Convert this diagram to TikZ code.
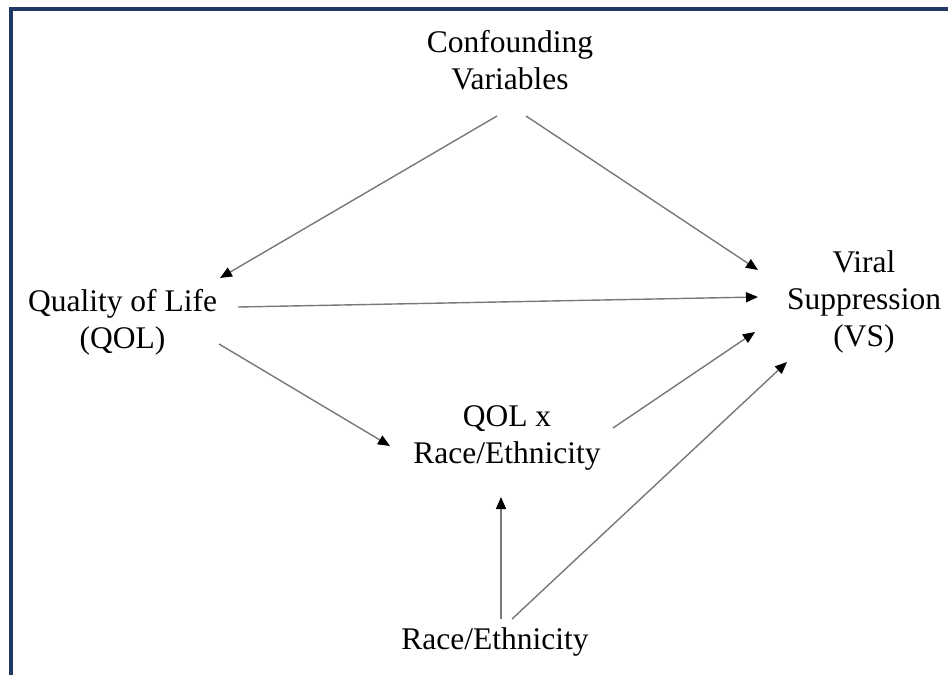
\documentclass[tikz,border=0pt]{standalone}
\usepackage{fontspec}
\setmainfont{Liberation Serif}
\usetikzlibrary{arrows.meta}
\definecolor{framec}{RGB}{31,56,100}
\definecolor{linec}{RGB}{120,120,120}
\begin{document}
\begin{tikzpicture}[x=0.5pt,y=-0.5pt,
  lbl/.style={align=center,inner sep=0pt,font=\fontsize{15.75pt}{18.5pt}\selectfont},
  arr/.style={draw=linec,line width=0.7pt,-{Triangle[length=6pt,width=5pt,fill=black,color=black]}}]
\useasboundingbox[fill=white] (0,0) rectangle (948,675);
\draw[framec,line width=2pt] (10.8,675) -- (10.8,8.7) -- (948,8.7);
\node[lbl] (conf) at (510,60) {Confounding\\Variables};
\node[lbl] (qol) at (122.5,322) {Quality of Life\\(QOL)};
\node[lbl] (vs) at (864,302) {Viral\\Suppression\\(VS)};
\node[lbl] (inter) at (507,438) {QOL x\\Race/Ethnicity};
\node[lbl] (race) at (495,642) {Race/Ethnicity};
\coordinate (c1) at (497,116);
\coordinate (c2) at (526,116);
\coordinate (q1) at (220,278);
\coordinate (q2) at (238,307);
\coordinate (q3) at (219,344);
\coordinate (v1) at (758,270);
\coordinate (v2) at (758,297);
\coordinate (v3) at (755,332);
\coordinate (v4) at (787,362);
\coordinate (i1) at (390,446);
\coordinate (i2) at (613,428);
\coordinate (i3) at (501,497);
\coordinate (r1) at (501,619);
\coordinate (r2) at (512,619);
\draw[arr] (c1) -- (q1);
\draw[arr] (c2) -- (v1);
\draw[arr] (q2) -- (v2);
\draw[arr] (q3) -- (i1);
\draw[arr] (i2) -- (v3);
\draw[arr] (r1) -- (i3);
\draw[arr] (r2) -- (v4);
\end{tikzpicture}
\end{document}
